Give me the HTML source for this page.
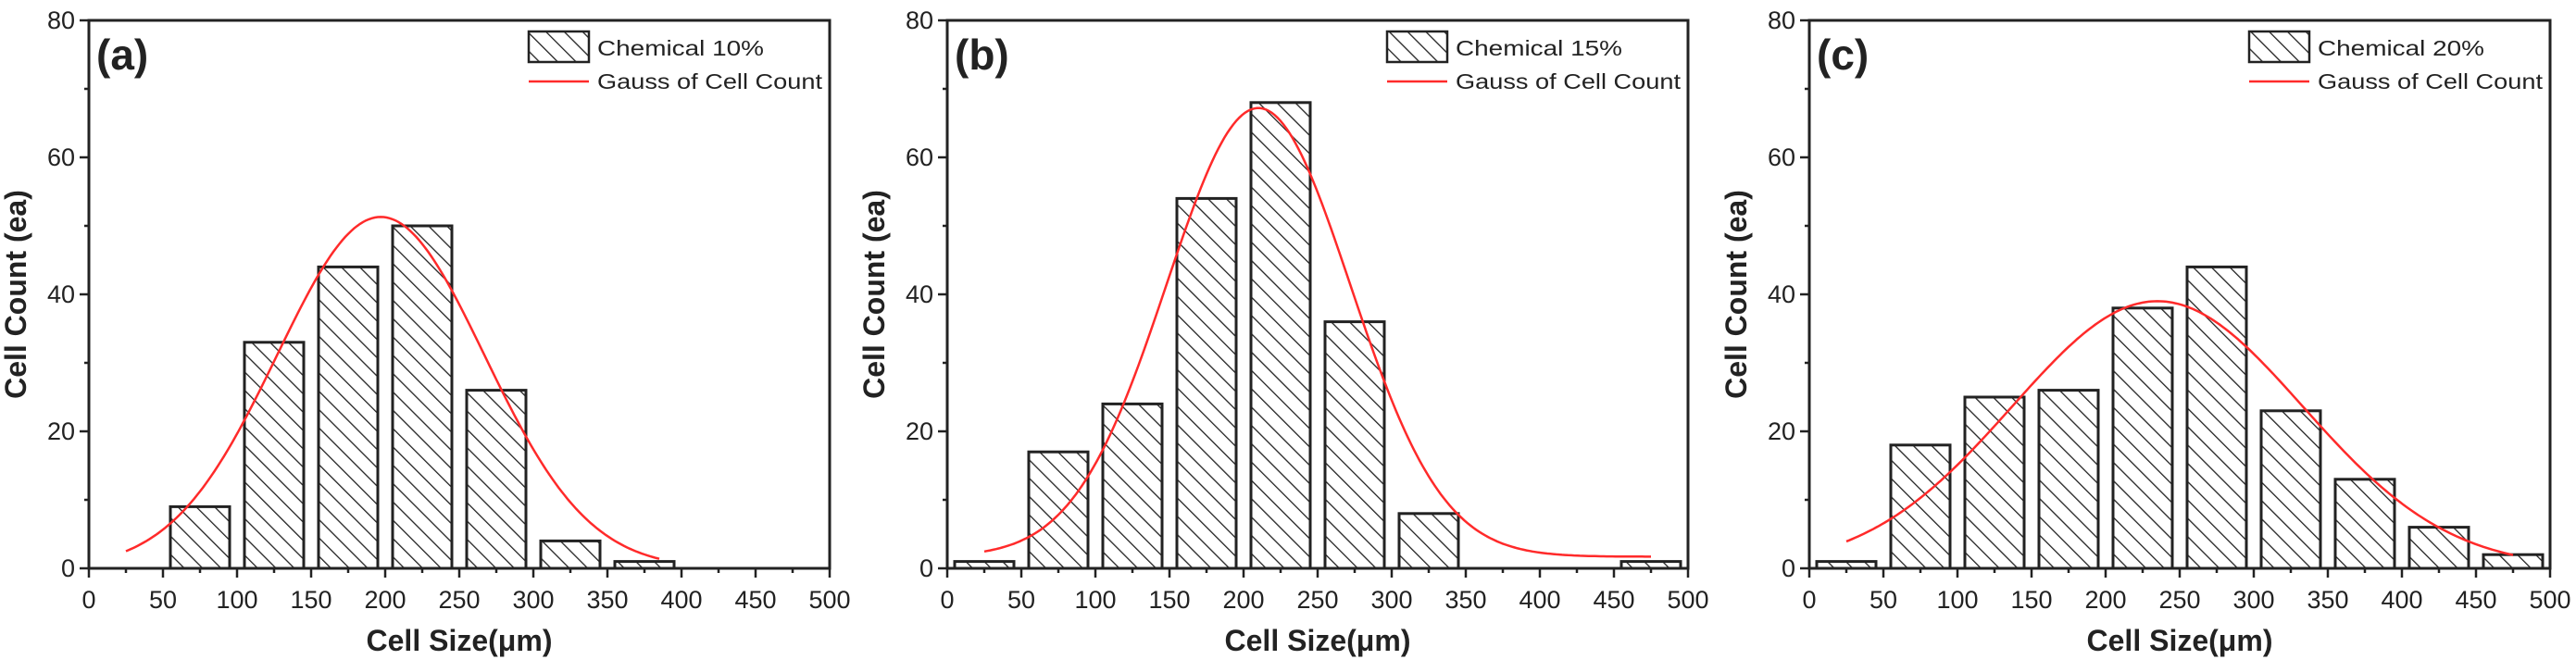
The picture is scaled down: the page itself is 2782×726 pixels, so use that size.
<!DOCTYPE html>
<html><head><meta charset="utf-8">
<style>
html,body{margin:0;padding:0;background:#fff;}
svg{display:block;font-family:"Liberation Sans",sans-serif;}
</style></head>
<body>
<svg id="fig" width="2782" height="726" viewBox="0 0 2782 726" xmlns="http://www.w3.org/2000/svg">
<defs>
<pattern id="hatch" patternUnits="userSpaceOnUse" width="14" height="14" patternTransform="rotate(-45)">
<rect width="14" height="14" fill="#fff"/>
<line x1="0" y1="0" x2="0" y2="14" stroke="#222" stroke-width="2.6"/>
</pattern>
</defs>
</svg>
<script>
// Panel data
const panelLabels = ["(a)", "(b)", "(c)"];
const seriesNames = ["Chemical 10%", "Chemical 15%", "Chemical 20%"];
const binStarts = [0, 50, 100, 150, 200, 250, 300, 350, 400, 450];
const countsA = [0, 9, 33, 44, 50, 26, 4, 1, 0, 0];
const countsB = [1, 17, 24, 54, 68, 36, 8, 0, 0, 1];
const countsC = [1, 18, 25, 26, 38, 44, 23, 13, 6, 2];
const gaussCenter = [197, 210, 235];
const gaussSigma = [70, 62, 98];
const gaussAmp = [51.3, 65.5, 39];
const gaussOffset = [0, 1.7, 0];
const gaussRange = [[25, 385], [25, 475], [25, 475]];
const xTicks = [0, 50, 100, 150, 200, 250, 300, 350, 400, 450, 500];
const yTicks = [0, 20, 40, 60, 80];

const allCounts = [countsA, countsB, countsC];
const plotLefts = [96, 1023, 1954];
const plotW = 800, plotTop = 22, plotBottom = 614;
const NS = "http://www.w3.org/2000/svg";
const svg = document.getElementById("fig");

function mk(tag, attrs, parent) {
  const e = document.createElementNS(NS, tag);
  for (const k in attrs) e.setAttribute(k, attrs[k]);
  (parent || svg).appendChild(e);
  return e;
}

for (let p = 0; p < 3; p++) {
  const L = plotLefts[p];
  const xs = v => L + v / 500 * plotW;
  const ys = v => plotBottom - v / 80 * (plotBottom - plotTop);
  const g = mk("g", {});
  
  

  const counts = allCounts[p];
  for (let i = 0; i < binStarts.length; i++) {
    if (!counts[i]) continue;
    const r = mk("rect", {x: xs(binStarts[i] + 5), y: ys(counts[i]), width: xs(binStarts[i] + 45) - xs(binStarts[i] + 5), height: ys(0) - ys(counts[i]), fill: "url(#hatch)", stroke: "#222", "stroke-width": 3}, g);
    
    
  }

  let d = "";
  for (let x = gaussRange[p][0]; x <= gaussRange[p][1]; x += 2) {
    const y = gaussOffset[p] + gaussAmp[p] * Math.exp(-Math.pow(x - gaussCenter[p], 2) / (2 * gaussSigma[p] * gaussSigma[p]));
    d += (d ? "L" : "M") + xs(x).toFixed(1) + "," + ys(y).toFixed(1);
  }
  const c = mk("path", {d: d, fill: "none", stroke: "#ff2a2a", "stroke-width": 2.5}, g);
  
  

  const fr = mk("rect", {x: L, y: plotTop, width: plotW, height: plotBottom - plotTop, fill: "none", stroke: "#222", "stroke-width": 3}, g);
  
  

  for (let i = 0; i < xTicks.length; i++) {
    const X = xs(xTicks[i]);
    mk("line", {x1: X, y1: plotBottom, x2: X, y2: plotBottom + 10, stroke: "#222", "stroke-width": 2.5}, g);
    if (i < xTicks.length - 1) {
      const Xm = xs(xTicks[i] + 25);
      mk("line", {x1: Xm, y1: plotBottom, x2: Xm, y2: plotBottom + 5, stroke: "#222", "stroke-width": 2.5}, g);
    }
    const t = mk("text", {x: X, y: 657, "text-anchor": "middle", "font-size": 27, fill: "#222"}, g);
    t.textContent = xTicks[i];
    
    
  }
  for (let i = 0; i < yTicks.length; i++) {
    const Y = ys(yTicks[i]);
    mk("line", {x1: L - 10, y1: Y, x2: L, y2: Y, stroke: "#222", "stroke-width": 2.5}, g);
    if (i < yTicks.length - 1) {
      const Ym = ys(yTicks[i] + 10);
      mk("line", {x1: L - 5, y1: Ym, x2: L, y2: Ym, stroke: "#222", "stroke-width": 2.5}, g);
    }
    const t = mk("text", {x: L - 15, y: Y + 9, "text-anchor": "end", "font-size": 27, fill: "#222"}, g);
    t.textContent = yTicks[i];
    
    
  }

  const xt = mk("text", {x: L + 400, y: 703, "text-anchor": "middle", "font-size": 32, "font-weight": "bold", fill: "#222"}, g);
  xt.textContent = "Cell Size(μm)";
  
  
  const yt = mk("text", {x: 0, y: 0, "text-anchor": "middle", "font-size": 32, "font-weight": "bold", fill: "#222", transform: "translate(" + (L - 68) + ",318) rotate(-90)"}, g);
  yt.textContent = "Cell Count (ea)";
  
  

  const pl = mk("text", {x: L + 8, y: 75, "font-size": 46, "font-weight": "bold", fill: "#222"}, g);
  pl.textContent = panelLabels[p];
  
  

  const lg = mk("g", {}, g);
  
  
  mk("rect", {x: L + 475, y: 34, width: 65, height: 33, fill: "url(#hatch)", stroke: "#222", "stroke-width": 2.5}, lg);
  const l1 = mk("text", {x: L + 549, y: 60, "font-size": 23, fill: "#222", textLength: 180, lengthAdjust: "spacingAndGlyphs"}, lg);
  l1.textContent = seriesNames[p];
  
  
  mk("line", {x1: L + 475, y1: 88, x2: L + 540, y2: 88, stroke: "#ff2a2a", "stroke-width": 2.5}, lg);
  const l2 = mk("text", {x: L + 549, y: 96, "font-size": 23, fill: "#222", textLength: 243, lengthAdjust: "spacingAndGlyphs"}, lg);
  l2.textContent = "Gauss of Cell Count";
  
  
}
</script>
</body></html>
